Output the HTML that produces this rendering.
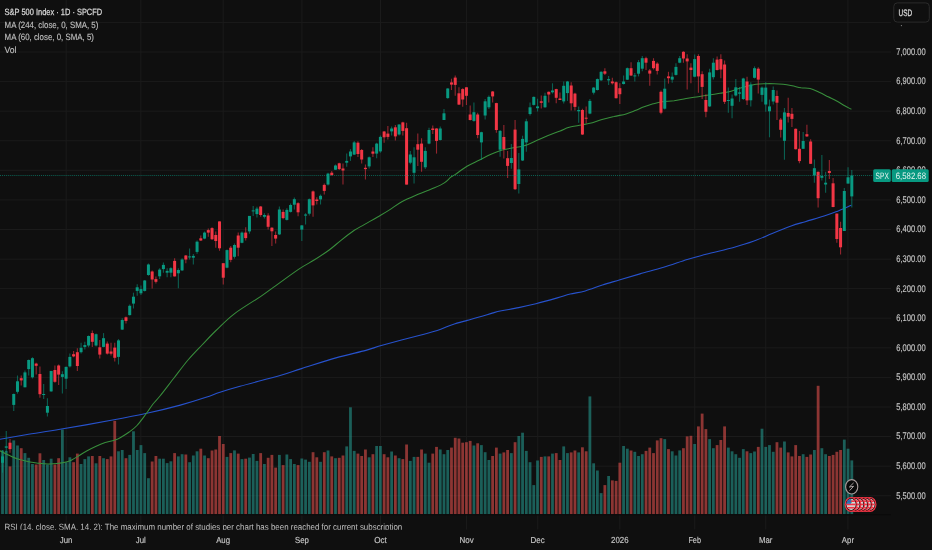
<!DOCTYPE html>
<html><head><meta charset="utf-8"><style>
html,body{margin:0;padding:0;background:#0f0f0f;}
body{width:932px;height:550px;overflow:hidden;position:relative;}
svg{position:absolute;left:0;top:0;}
text{font-family:'Liberation Sans', Arial, sans-serif;text-rendering:geometricPrecision;}
</style></head><body>
<svg width="932" height="550" viewBox="0 0 932 550">
<defs><clipPath id="fc0"><ellipse cx="851.10" cy="504.4" rx="4.6" ry="5.6"/></clipPath><clipPath id="fc1"><ellipse cx="854.88" cy="504.4" rx="4.6" ry="5.6"/></clipPath><clipPath id="fc2"><ellipse cx="858.66" cy="504.4" rx="4.6" ry="5.6"/></clipPath><clipPath id="fc3"><ellipse cx="862.44" cy="504.4" rx="4.6" ry="5.6"/></clipPath><clipPath id="fc4"><ellipse cx="866.22" cy="504.4" rx="4.6" ry="5.6"/></clipPath><clipPath id="fc5"><ellipse cx="870.00" cy="504.4" rx="4.6" ry="5.6"/></clipPath><clipPath id="pane"><rect x="0" y="0" width="891" height="514.2"/></clipPath></defs>
<rect width="932" height="550" fill="#0f0f0f"/>
<g stroke="#1b1b1b" stroke-width="1"><line x1="0" y1="22.4" x2="891" y2="22.4"/><line x1="0" y1="52.0" x2="891" y2="52.0"/><line x1="0" y1="81.6" x2="891" y2="81.6"/><line x1="0" y1="111.2" x2="891" y2="111.2"/><line x1="0" y1="140.7" x2="891" y2="140.7"/><line x1="0" y1="170.3" x2="891" y2="170.3"/><line x1="0" y1="199.9" x2="891" y2="199.9"/><line x1="0" y1="229.5" x2="891" y2="229.5"/><line x1="0" y1="259.1" x2="891" y2="259.1"/><line x1="0" y1="288.6" x2="891" y2="288.6"/><line x1="0" y1="318.2" x2="891" y2="318.2"/><line x1="0" y1="347.8" x2="891" y2="347.8"/><line x1="0" y1="377.4" x2="891" y2="377.4"/><line x1="0" y1="407.0" x2="891" y2="407.0"/><line x1="0" y1="436.5" x2="891" y2="436.5"/><line x1="0" y1="466.1" x2="891" y2="466.1"/><line x1="0" y1="495.7" x2="891" y2="495.7"/><line x1="66.1" y1="0" x2="66.1" y2="529.5"/><line x1="140.8" y1="0" x2="140.8" y2="529.5"/><line x1="223.1" y1="0" x2="223.1" y2="529.5"/><line x1="301.9" y1="0" x2="301.9" y2="529.5"/><line x1="380.5" y1="0" x2="380.5" y2="529.5"/><line x1="466.6" y1="0" x2="466.6" y2="529.5"/><line x1="537.7" y1="0" x2="537.7" y2="529.5"/><line x1="619.8" y1="0" x2="619.8" y2="529.5"/><line x1="694.7" y1="0" x2="694.7" y2="529.5"/><line x1="765.7" y1="0" x2="765.7" y2="529.5"/><line x1="847.9" y1="0" x2="847.9" y2="529.5"/></g>
<g fill="rgba(38,166,154,0.53)"><rect x="1.12" y="450.5" width="2.80" height="63.7"/><rect x="4.86" y="450.9" width="2.80" height="63.3"/><rect x="12.34" y="440.4" width="2.80" height="73.8"/><rect x="16.09" y="445.5" width="2.80" height="68.7"/><rect x="23.57" y="453.1" width="2.80" height="61.1"/><rect x="27.31" y="457.8" width="2.80" height="56.4"/><rect x="31.05" y="464.0" width="2.80" height="50.2"/><rect x="42.27" y="460.0" width="2.80" height="54.2"/><rect x="46.02" y="464.5" width="2.80" height="49.7"/><rect x="49.76" y="458.7" width="2.80" height="55.5"/><rect x="60.98" y="429.5" width="2.80" height="84.7"/><rect x="64.72" y="462.2" width="2.80" height="52.0"/><rect x="68.46" y="457.3" width="2.80" height="56.9"/><rect x="79.69" y="464.0" width="2.80" height="50.2"/><rect x="83.43" y="459.1" width="2.80" height="55.1"/><rect x="87.17" y="456.4" width="2.80" height="57.8"/><rect x="94.65" y="463.3" width="2.80" height="50.9"/><rect x="102.14" y="458.2" width="2.80" height="56.0"/><rect x="117.10" y="451.3" width="2.80" height="62.9"/><rect x="120.84" y="450.0" width="2.80" height="64.2"/><rect x="128.32" y="454.9" width="2.80" height="59.3"/><rect x="132.07" y="431.3" width="2.80" height="82.9"/><rect x="135.81" y="450.0" width="2.80" height="64.2"/><rect x="139.55" y="445.1" width="2.80" height="69.1"/><rect x="143.29" y="453.1" width="2.80" height="61.1"/><rect x="147.03" y="478.2" width="2.80" height="36.0"/><rect x="158.25" y="458.7" width="2.80" height="55.5"/><rect x="162.00" y="458.7" width="2.80" height="55.5"/><rect x="165.74" y="463.1" width="2.80" height="51.1"/><rect x="169.48" y="461.3" width="2.80" height="52.9"/><rect x="176.96" y="456.4" width="2.80" height="57.8"/><rect x="180.70" y="454.2" width="2.80" height="60.0"/><rect x="188.19" y="462.2" width="2.80" height="52.0"/><rect x="191.93" y="455.5" width="2.80" height="58.7"/><rect x="195.67" y="451.3" width="2.80" height="62.9"/><rect x="203.15" y="455.5" width="2.80" height="58.7"/><rect x="225.60" y="456.9" width="2.80" height="57.3"/><rect x="233.08" y="450.4" width="2.80" height="63.8"/><rect x="240.56" y="459.1" width="2.80" height="55.1"/><rect x="248.05" y="457.6" width="2.80" height="56.6"/><rect x="251.79" y="454.0" width="2.80" height="60.2"/><rect x="255.53" y="460.9" width="2.80" height="53.3"/><rect x="263.01" y="464.0" width="2.80" height="50.2"/><rect x="277.98" y="454.9" width="2.80" height="59.3"/><rect x="285.46" y="454.5" width="2.80" height="59.7"/><rect x="289.20" y="459.1" width="2.80" height="55.1"/><rect x="292.94" y="464.0" width="2.80" height="50.2"/><rect x="300.42" y="458.5" width="2.80" height="55.7"/><rect x="304.17" y="459.6" width="2.80" height="54.6"/><rect x="307.91" y="461.8" width="2.80" height="52.4"/><rect x="319.13" y="461.8" width="2.80" height="52.4"/><rect x="326.61" y="450.5" width="2.80" height="63.7"/><rect x="334.10" y="458.2" width="2.80" height="56.0"/><rect x="345.32" y="446.4" width="2.80" height="67.8"/><rect x="349.06" y="407.3" width="2.80" height="106.9"/><rect x="352.80" y="450.9" width="2.80" height="63.3"/><rect x="367.77" y="457.3" width="2.80" height="56.9"/><rect x="375.25" y="446.0" width="2.80" height="68.2"/><rect x="378.99" y="446.0" width="2.80" height="68.2"/><rect x="390.22" y="451.5" width="2.80" height="62.7"/><rect x="397.70" y="458.2" width="2.80" height="56.0"/><rect x="408.92" y="460.9" width="2.80" height="53.3"/><rect x="412.66" y="456.9" width="2.80" height="57.3"/><rect x="423.89" y="453.6" width="2.80" height="60.6"/><rect x="427.63" y="462.7" width="2.80" height="51.5"/><rect x="438.85" y="449.5" width="2.80" height="64.7"/><rect x="442.59" y="454.2" width="2.80" height="60.0"/><rect x="446.33" y="450.0" width="2.80" height="64.2"/><rect x="472.52" y="445.5" width="2.80" height="68.7"/><rect x="480.01" y="445.1" width="2.80" height="69.1"/><rect x="483.75" y="452.2" width="2.80" height="62.0"/><rect x="487.49" y="460.0" width="2.80" height="54.2"/><rect x="498.71" y="453.6" width="2.80" height="60.6"/><rect x="509.94" y="453.1" width="2.80" height="61.1"/><rect x="517.42" y="436.0" width="2.80" height="78.2"/><rect x="521.16" y="432.7" width="2.80" height="81.5"/><rect x="524.90" y="450.9" width="2.80" height="63.3"/><rect x="528.64" y="462.2" width="2.80" height="52.0"/><rect x="532.38" y="485.1" width="2.80" height="29.1"/><rect x="536.13" y="460.5" width="2.80" height="53.7"/><rect x="543.61" y="456.4" width="2.80" height="57.8"/><rect x="551.09" y="453.6" width="2.80" height="60.6"/><rect x="562.31" y="446.4" width="2.80" height="67.8"/><rect x="566.06" y="453.1" width="2.80" height="61.1"/><rect x="577.28" y="452.4" width="2.80" height="61.8"/><rect x="588.50" y="396.4" width="2.80" height="117.8"/><rect x="592.25" y="463.3" width="2.80" height="50.9"/><rect x="595.99" y="470.5" width="2.80" height="43.7"/><rect x="599.73" y="493.1" width="2.80" height="21.1"/><rect x="607.21" y="476.0" width="2.80" height="38.2"/><rect x="622.18" y="446.0" width="2.80" height="68.2"/><rect x="625.92" y="448.7" width="2.80" height="65.5"/><rect x="633.40" y="451.8" width="2.80" height="62.4"/><rect x="637.14" y="456.0" width="2.80" height="58.2"/><rect x="640.88" y="454.2" width="2.80" height="60.0"/><rect x="663.33" y="439.1" width="2.80" height="75.1"/><rect x="670.81" y="451.3" width="2.80" height="62.9"/><rect x="674.55" y="455.5" width="2.80" height="58.7"/><rect x="678.30" y="450.4" width="2.80" height="63.8"/><rect x="693.26" y="444.0" width="2.80" height="70.2"/><rect x="708.23" y="439.1" width="2.80" height="75.1"/><rect x="711.97" y="448.2" width="2.80" height="66.0"/><rect x="726.93" y="447.6" width="2.80" height="66.6"/><rect x="730.67" y="451.3" width="2.80" height="62.9"/><rect x="734.41" y="454.2" width="2.80" height="60.0"/><rect x="738.16" y="457.8" width="2.80" height="56.4"/><rect x="741.90" y="449.1" width="2.80" height="65.1"/><rect x="749.38" y="453.1" width="2.80" height="61.1"/><rect x="753.12" y="451.5" width="2.80" height="62.7"/><rect x="760.60" y="428.7" width="2.80" height="85.5"/><rect x="764.35" y="446.9" width="2.80" height="67.3"/><rect x="768.09" y="445.1" width="2.80" height="69.1"/><rect x="771.83" y="451.8" width="2.80" height="62.4"/><rect x="783.05" y="441.5" width="2.80" height="72.7"/><rect x="801.76" y="454.2" width="2.80" height="60.0"/><rect x="812.98" y="450.0" width="2.80" height="64.2"/><rect x="820.46" y="448.2" width="2.80" height="66.0"/><rect x="824.21" y="454.2" width="2.80" height="60.0"/><rect x="842.91" y="439.6" width="2.80" height="74.6"/><rect x="846.65" y="448.7" width="2.80" height="65.5"/><rect x="850.40" y="460.4" width="2.80" height="53.8"/></g>
<g fill="rgba(239,83,80,0.56)"><rect x="8.60" y="466.4" width="2.80" height="47.8"/><rect x="19.83" y="448.2" width="2.80" height="66.0"/><rect x="34.79" y="464.5" width="2.80" height="49.7"/><rect x="38.53" y="453.3" width="2.80" height="60.9"/><rect x="53.50" y="464.5" width="2.80" height="49.7"/><rect x="57.24" y="458.2" width="2.80" height="56.0"/><rect x="72.20" y="462.2" width="2.80" height="52.0"/><rect x="75.95" y="453.6" width="2.80" height="60.6"/><rect x="90.91" y="456.0" width="2.80" height="58.2"/><rect x="98.39" y="456.0" width="2.80" height="58.2"/><rect x="105.88" y="459.1" width="2.80" height="55.1"/><rect x="109.62" y="456.4" width="2.80" height="57.8"/><rect x="113.36" y="420.9" width="2.80" height="93.3"/><rect x="124.58" y="458.2" width="2.80" height="56.0"/><rect x="150.77" y="461.5" width="2.80" height="52.7"/><rect x="154.51" y="456.0" width="2.80" height="58.2"/><rect x="173.22" y="453.1" width="2.80" height="61.1"/><rect x="184.44" y="454.5" width="2.80" height="59.7"/><rect x="199.41" y="448.7" width="2.80" height="65.5"/><rect x="206.89" y="458.2" width="2.80" height="56.0"/><rect x="210.63" y="450.5" width="2.80" height="63.7"/><rect x="214.37" y="449.5" width="2.80" height="64.7"/><rect x="218.12" y="436.0" width="2.80" height="78.2"/><rect x="221.86" y="444.0" width="2.80" height="70.2"/><rect x="229.34" y="453.1" width="2.80" height="61.1"/><rect x="236.82" y="453.6" width="2.80" height="60.6"/><rect x="244.30" y="458.7" width="2.80" height="55.5"/><rect x="259.27" y="453.1" width="2.80" height="61.1"/><rect x="266.75" y="457.8" width="2.80" height="56.4"/><rect x="270.49" y="454.9" width="2.80" height="59.3"/><rect x="274.23" y="467.6" width="2.80" height="46.6"/><rect x="281.72" y="465.1" width="2.80" height="49.1"/><rect x="296.68" y="465.1" width="2.80" height="49.1"/><rect x="311.65" y="452.2" width="2.80" height="62.0"/><rect x="315.39" y="457.3" width="2.80" height="56.9"/><rect x="322.87" y="452.2" width="2.80" height="62.0"/><rect x="330.35" y="456.4" width="2.80" height="57.8"/><rect x="337.84" y="457.8" width="2.80" height="56.4"/><rect x="341.58" y="455.5" width="2.80" height="58.7"/><rect x="356.54" y="453.6" width="2.80" height="60.6"/><rect x="360.28" y="456.0" width="2.80" height="58.2"/><rect x="364.03" y="449.5" width="2.80" height="64.7"/><rect x="371.51" y="454.2" width="2.80" height="60.0"/><rect x="382.73" y="454.2" width="2.80" height="60.0"/><rect x="386.47" y="457.3" width="2.80" height="56.9"/><rect x="393.96" y="455.5" width="2.80" height="58.7"/><rect x="401.44" y="459.1" width="2.80" height="55.1"/><rect x="405.18" y="444.5" width="2.80" height="69.7"/><rect x="416.40" y="456.9" width="2.80" height="57.3"/><rect x="420.15" y="449.5" width="2.80" height="64.7"/><rect x="431.37" y="453.6" width="2.80" height="60.6"/><rect x="435.11" y="446.9" width="2.80" height="67.3"/><rect x="450.08" y="447.6" width="2.80" height="66.6"/><rect x="453.82" y="437.8" width="2.80" height="76.4"/><rect x="457.56" y="438.5" width="2.80" height="75.7"/><rect x="461.30" y="442.7" width="2.80" height="71.5"/><rect x="465.04" y="442.2" width="2.80" height="72.0"/><rect x="468.78" y="440.9" width="2.80" height="73.3"/><rect x="476.27" y="443.3" width="2.80" height="70.9"/><rect x="491.23" y="456.0" width="2.80" height="58.2"/><rect x="494.97" y="447.6" width="2.80" height="66.6"/><rect x="502.45" y="452.4" width="2.80" height="61.8"/><rect x="506.20" y="450.0" width="2.80" height="64.2"/><rect x="513.68" y="442.2" width="2.80" height="72.0"/><rect x="539.87" y="456.9" width="2.80" height="57.3"/><rect x="547.35" y="456.4" width="2.80" height="57.8"/><rect x="554.83" y="453.1" width="2.80" height="61.1"/><rect x="558.57" y="460.0" width="2.80" height="54.2"/><rect x="569.80" y="452.4" width="2.80" height="61.8"/><rect x="573.54" y="450.5" width="2.80" height="63.7"/><rect x="581.02" y="447.3" width="2.80" height="66.9"/><rect x="584.76" y="451.3" width="2.80" height="62.9"/><rect x="603.47" y="485.1" width="2.80" height="29.1"/><rect x="610.95" y="480.4" width="2.80" height="33.8"/><rect x="614.69" y="480.9" width="2.80" height="33.3"/><rect x="618.43" y="462.7" width="2.80" height="51.5"/><rect x="629.66" y="450.5" width="2.80" height="63.7"/><rect x="644.62" y="450.9" width="2.80" height="63.3"/><rect x="648.36" y="447.6" width="2.80" height="66.6"/><rect x="652.11" y="453.1" width="2.80" height="61.1"/><rect x="655.85" y="440.4" width="2.80" height="73.8"/><rect x="659.59" y="438.2" width="2.80" height="76.0"/><rect x="667.07" y="449.1" width="2.80" height="65.1"/><rect x="682.04" y="448.2" width="2.80" height="66.0"/><rect x="685.78" y="436.4" width="2.80" height="77.8"/><rect x="689.52" y="435.8" width="2.80" height="78.4"/><rect x="697.00" y="426.4" width="2.80" height="87.8"/><rect x="700.74" y="413.6" width="2.80" height="100.6"/><rect x="704.48" y="429.1" width="2.80" height="85.1"/><rect x="715.71" y="445.1" width="2.80" height="69.1"/><rect x="719.45" y="440.0" width="2.80" height="74.2"/><rect x="723.19" y="426.4" width="2.80" height="87.8"/><rect x="745.64" y="451.3" width="2.80" height="62.9"/><rect x="756.86" y="446.9" width="2.80" height="67.3"/><rect x="775.57" y="442.2" width="2.80" height="72.0"/><rect x="779.31" y="447.6" width="2.80" height="66.6"/><rect x="786.79" y="452.4" width="2.80" height="61.8"/><rect x="790.53" y="456.4" width="2.80" height="57.8"/><rect x="794.28" y="445.1" width="2.80" height="69.1"/><rect x="798.02" y="456.0" width="2.80" height="58.2"/><rect x="805.50" y="456.9" width="2.80" height="57.3"/><rect x="809.24" y="454.5" width="2.80" height="59.7"/><rect x="816.72" y="385.8" width="2.80" height="128.4"/><rect x="827.95" y="456.0" width="2.80" height="58.2"/><rect x="831.69" y="454.9" width="2.80" height="59.3"/><rect x="835.43" y="451.8" width="2.80" height="62.4"/><rect x="839.17" y="450.0" width="2.80" height="64.2"/></g>
<rect x="0" y="514.2" width="891" height="1.2" fill="#0a0a0a"/>
<g clip-path="url(#pane)">
<path d="M0.0,439.3 C4.3,438.5 15.8,436.4 25.8,434.7 C35.8,433.0 45.9,431.7 60.1,429.3 C74.3,426.9 96.8,423.0 111.2,420.3 C125.7,417.6 135.3,415.8 146.8,413.3 C158.3,410.8 170.4,407.8 180.3,405.1 C190.2,402.4 199.4,399.5 206.0,397.3 C212.6,395.1 214.3,394.0 220.0,392.2 C225.7,390.4 230.0,389.1 240.0,386.3 C250.0,383.5 269.9,378.4 280.1,375.5 C290.4,372.6 292.2,371.5 301.5,368.6 C310.8,365.7 325.2,360.9 335.9,357.9 C346.6,354.9 358.0,352.5 365.9,350.4 C373.8,348.2 374.1,347.5 383.1,345.0 C392.1,342.5 411.0,337.6 420.0,335.2 C429.0,332.8 431.8,332.2 437.2,330.5 C442.6,328.8 447.2,326.4 452.2,324.7 C457.2,323.0 462.5,321.7 467.2,320.4 C471.9,319.1 475.8,318.1 480.1,316.8 C484.4,315.6 489.4,313.9 493.0,312.9 C496.6,311.9 497.2,311.7 501.5,310.8 C505.8,309.9 513.0,308.8 518.7,307.6 C524.4,306.4 529.5,305.3 535.9,303.7 C542.3,302.1 551.6,299.5 557.3,297.9 C563.0,296.3 565.6,295.1 570.2,294.0 C574.9,292.9 579.8,292.5 585.2,291.0 C590.6,289.5 596.6,286.9 602.4,285.0 C608.2,283.1 613.7,281.7 620.0,279.8 C626.3,277.9 632.7,276.0 640.0,273.9 C647.3,271.8 655.7,269.7 663.6,267.3 C671.5,264.9 680.1,261.7 687.2,259.5 C694.3,257.3 698.2,256.4 706.1,254.3 C714.0,252.2 726.5,249.4 734.4,247.2 C742.3,245.0 747.0,243.6 753.3,241.3 C759.6,239.0 765.9,236.1 772.2,233.5 C778.5,230.9 785.6,228.0 791.1,226.0 C796.6,224.0 799.8,223.3 805.3,221.7 C810.8,220.0 819.0,217.8 824.1,216.1 C829.2,214.4 831.4,213.6 835.9,211.8 C840.4,210.0 848.7,206.3 851.3,205.2" fill="none" stroke="#2752cc" stroke-width="1.1"/>
<path d="M0.0,450.8 C1.5,451.6 6.0,453.9 9.0,455.3 C12.0,456.7 14.5,458.0 18.0,459.1 C21.5,460.2 26.5,461.4 30.0,462.1 C33.5,462.8 36.0,463.0 39.0,463.3 C42.0,463.6 45.0,463.9 48.0,464.0 C51.0,464.1 54.0,463.9 57.0,463.6 C60.0,463.3 63.6,462.7 66.1,462.1 C68.6,461.5 69.8,460.9 72.1,459.8 C74.3,458.7 77.1,456.8 79.6,455.3 C82.1,453.8 84.3,452.3 87.1,450.8 C89.8,449.3 93.1,447.7 96.1,446.3 C99.1,444.9 102.2,443.5 105.2,442.5 C108.2,441.5 111.7,441.1 114.2,440.3 C116.7,439.5 117.7,439.1 120.2,437.7 C122.7,436.3 126.4,434.0 129.2,432.0 C132.0,430.0 134.2,428.5 137.0,425.5 C139.8,422.5 143.3,417.6 146.0,414.0 C148.7,410.4 150.7,407.0 153.0,404.0 C155.3,401.0 156.5,400.3 160.0,396.0 C163.5,391.7 169.3,384.0 174.0,378.0 C178.7,372.0 183.3,365.5 188.0,360.0 C192.7,354.5 197.3,349.9 202.0,345.0 C206.7,340.1 210.6,335.7 216.0,330.5 C221.4,325.3 226.9,319.4 234.3,313.8 C241.7,308.2 254.2,300.8 260.5,296.6 C266.8,292.4 265.7,292.9 272.0,288.4 C278.3,283.9 291.0,274.4 298.1,269.6 C305.2,264.8 309.3,263.1 314.5,259.8 C319.7,256.5 324.7,253.3 329.2,250.0 C333.7,246.7 337.1,243.4 341.3,240.1 C345.5,236.8 350.5,232.9 354.3,230.3 C358.1,227.7 360.4,226.8 364.2,224.6 C368.0,222.4 373.1,219.6 377.2,217.2 C381.3,214.8 384.6,213.0 388.7,210.4 C392.8,207.8 396.9,204.4 401.8,201.7 C406.7,199.0 412.7,196.6 418.1,194.3 C423.6,192.0 430.1,189.7 434.5,187.8 C438.9,185.9 441.6,184.7 444.3,182.9 C447.0,181.1 449.0,178.6 450.8,177.2 C452.6,175.8 452.3,176.4 455.0,174.6 C457.7,172.8 463.0,168.7 467.0,166.3 C471.0,163.9 475.0,162.3 479.0,160.3 C483.0,158.3 487.0,156.1 491.0,154.3 C495.0,152.6 499.1,150.9 503.1,149.8 C507.1,148.7 511.6,148.3 515.1,147.6 C518.6,146.9 520.6,146.9 524.1,145.8 C527.6,144.7 532.1,142.5 536.1,140.8 C540.1,139.1 544.1,137.1 548.1,135.5 C552.1,133.9 556.7,132.4 560.2,131.0 C563.7,129.6 565.7,128.3 569.2,127.3 C572.7,126.3 577.7,125.7 581.2,125.0 C584.7,124.3 586.5,124.2 590.0,123.3 C593.5,122.4 598.0,120.7 602.0,119.6 C606.0,118.5 610.0,117.5 614.0,116.6 C618.0,115.6 622.6,114.9 626.1,113.9 C629.6,112.9 632.1,111.8 635.1,110.6 C638.1,109.4 641.1,107.9 644.1,106.8 C647.1,105.7 650.1,104.6 653.1,103.8 C656.1,103.0 658.6,102.3 662.1,101.8 C665.6,101.3 670.1,101.3 674.1,100.8 C678.1,100.2 682.1,99.2 686.1,98.5 C690.1,97.8 694.2,97.3 698.2,96.7 C702.2,96.1 706.6,95.4 710.2,94.8 C713.8,94.2 716.9,93.8 720.0,93.3 C723.1,92.8 726.0,92.5 729.0,91.8 C732.0,91.0 735.0,89.7 738.0,88.8 C741.0,87.9 744.0,87.0 747.0,86.3 C750.0,85.5 753.0,84.7 756.0,84.3 C759.0,83.9 762.1,83.8 765.1,83.7 C768.1,83.6 771.1,83.6 774.1,83.7 C777.1,83.8 780.1,84.0 783.1,84.3 C786.1,84.6 789.1,85.2 792.1,85.8 C795.1,86.4 798.1,87.3 801.1,87.8 C804.1,88.2 807.1,87.8 810.1,88.5 C813.1,89.2 816.1,90.9 819.1,92.3 C822.1,93.7 825.2,95.3 828.2,96.8 C831.2,98.3 834.5,99.8 837.2,101.3 C840.0,102.8 842.3,104.5 844.7,105.8 C847.1,107.1 850.3,108.7 851.4,109.3" fill="none" stroke="#388e3c" stroke-width="1.05"/>
</g>
<g stroke="#089981" stroke-width="1.1" opacity="0.58"><line x1="2.52" y1="450.0" x2="2.52" y2="472.7"/><line x1="6.26" y1="430.9" x2="6.26" y2="452.7"/><line x1="13.74" y1="393.6" x2="13.74" y2="410.9"/><line x1="17.49" y1="375.5" x2="17.49" y2="393.6"/><line x1="24.97" y1="370.5" x2="24.97" y2="387.3"/><line x1="28.71" y1="359.6" x2="28.71" y2="375.5"/><line x1="32.45" y1="357.3" x2="32.45" y2="378.5"/><line x1="43.67" y1="384.0" x2="43.67" y2="399.1"/><line x1="47.42" y1="398.2" x2="47.42" y2="416.4"/><line x1="51.16" y1="370.9" x2="51.16" y2="391.8"/><line x1="62.38" y1="371.3" x2="62.38" y2="393.6"/><line x1="66.12" y1="366.4" x2="66.12" y2="389.1"/><line x1="69.86" y1="353.6" x2="69.86" y2="367.6"/><line x1="81.09" y1="342.7" x2="81.09" y2="353.6"/><line x1="84.83" y1="341.8" x2="84.83" y2="349.5"/><line x1="88.57" y1="335.5" x2="88.57" y2="347.3"/><line x1="96.05" y1="333.6" x2="96.05" y2="346.4"/><line x1="103.54" y1="333.1" x2="103.54" y2="347.3"/><line x1="118.50" y1="339.1" x2="118.50" y2="364.5"/><line x1="122.24" y1="318.2" x2="122.24" y2="330.0"/><line x1="129.72" y1="304.5" x2="129.72" y2="315.5"/><line x1="133.47" y1="292.7" x2="133.47" y2="308.5"/><line x1="137.21" y1="284.2" x2="137.21" y2="295.8"/><line x1="140.95" y1="285.5" x2="140.95" y2="295.1"/><line x1="144.69" y1="280.0" x2="144.69" y2="291.5"/><line x1="148.43" y1="263.6" x2="148.43" y2="275.8"/><line x1="159.65" y1="268.2" x2="159.65" y2="279.1"/><line x1="163.40" y1="262.4" x2="163.40" y2="272.7"/><line x1="167.14" y1="268.2" x2="167.14" y2="277.3"/><line x1="170.88" y1="267.3" x2="170.88" y2="277.3"/><line x1="178.36" y1="268.2" x2="178.36" y2="288.2"/><line x1="182.10" y1="258.2" x2="182.10" y2="270.9"/><line x1="189.59" y1="248.6" x2="189.59" y2="259.5"/><line x1="193.33" y1="254.1" x2="193.33" y2="264.6"/><line x1="197.07" y1="240.5" x2="197.07" y2="253.7"/><line x1="204.55" y1="231.4" x2="204.55" y2="239.2"/><line x1="227.00" y1="249.5" x2="227.00" y2="268.3"/><line x1="234.48" y1="243.5" x2="234.48" y2="258.6"/><line x1="241.96" y1="231.4" x2="241.96" y2="243.2"/><line x1="249.45" y1="215.9" x2="249.45" y2="233.7"/><line x1="253.19" y1="205.9" x2="253.19" y2="215.9"/><line x1="256.93" y1="206.8" x2="256.93" y2="217.4"/><line x1="264.41" y1="213.2" x2="264.41" y2="218.6"/><line x1="279.38" y1="206.5" x2="279.38" y2="235.0"/><line x1="286.86" y1="208.3" x2="286.86" y2="220.5"/><line x1="290.60" y1="203.5" x2="290.60" y2="212.6"/><line x1="294.34" y1="197.4" x2="294.34" y2="209.5"/><line x1="301.82" y1="225.0" x2="301.82" y2="241.0"/><line x1="305.57" y1="213.2" x2="305.57" y2="224.6"/><line x1="309.31" y1="198.6" x2="309.31" y2="215.5"/><line x1="320.53" y1="194.5" x2="320.53" y2="204.5"/><line x1="328.01" y1="172.7" x2="328.01" y2="185.5"/><line x1="335.50" y1="164.5" x2="335.50" y2="170.0"/><line x1="346.72" y1="153.6" x2="346.72" y2="166.7"/><line x1="350.46" y1="149.1" x2="350.46" y2="160.9"/><line x1="354.20" y1="140.9" x2="354.20" y2="155.1"/><line x1="369.17" y1="156.4" x2="369.17" y2="168.5"/><line x1="376.65" y1="142.7" x2="376.65" y2="158.2"/><line x1="380.39" y1="135.5" x2="380.39" y2="152.7"/><line x1="391.62" y1="126.4" x2="391.62" y2="135.5"/><line x1="399.10" y1="124.2" x2="399.10" y2="135.5"/><line x1="410.32" y1="150.9" x2="410.32" y2="164.2"/><line x1="414.06" y1="147.3" x2="414.06" y2="183.6"/><line x1="425.29" y1="147.3" x2="425.29" y2="169.1"/><line x1="429.03" y1="127.8" x2="429.03" y2="144.2"/><line x1="440.25" y1="126.4" x2="440.25" y2="140.5"/><line x1="443.99" y1="109.1" x2="443.99" y2="120.0"/><line x1="447.73" y1="88.2" x2="447.73" y2="98.7"/><line x1="473.92" y1="102.4" x2="473.92" y2="121.8"/><line x1="481.41" y1="131.8" x2="481.41" y2="160.0"/><line x1="485.15" y1="99.1" x2="485.15" y2="119.5"/><line x1="488.89" y1="95.5" x2="488.89" y2="109.1"/><line x1="500.11" y1="130.0" x2="500.11" y2="156.7"/><line x1="511.34" y1="144.0" x2="511.34" y2="168.8"/><line x1="518.82" y1="153.0" x2="518.82" y2="193.6"/><line x1="522.56" y1="135.7" x2="522.56" y2="161.0"/><line x1="526.30" y1="118.7" x2="526.30" y2="151.8"/><line x1="530.04" y1="102.4" x2="530.04" y2="115.5"/><line x1="533.78" y1="96.4" x2="533.78" y2="105.5"/><line x1="537.53" y1="98.7" x2="537.53" y2="111.5"/><line x1="545.01" y1="92.7" x2="545.01" y2="107.8"/><line x1="552.49" y1="83.3" x2="552.49" y2="93.6"/><line x1="563.71" y1="81.5" x2="563.71" y2="103.6"/><line x1="567.46" y1="80.9" x2="567.46" y2="100.9"/><line x1="578.68" y1="106.4" x2="578.68" y2="122.7"/><line x1="589.90" y1="99.1" x2="589.90" y2="114.2"/><line x1="593.65" y1="86.9" x2="593.65" y2="94.5"/><line x1="597.39" y1="78.5" x2="597.39" y2="90.5"/><line x1="601.13" y1="71.3" x2="601.13" y2="80.9"/><line x1="608.61" y1="76.0" x2="608.61" y2="85.1"/><line x1="623.58" y1="75.5" x2="623.58" y2="84.5"/><line x1="627.32" y1="67.6" x2="627.32" y2="80.0"/><line x1="634.80" y1="73.1" x2="634.80" y2="81.5"/><line x1="638.54" y1="60.0" x2="638.54" y2="76.4"/><line x1="642.28" y1="56.0" x2="642.28" y2="71.3"/><line x1="664.73" y1="78.5" x2="664.73" y2="109.5"/><line x1="672.21" y1="72.4" x2="672.21" y2="82.7"/><line x1="675.95" y1="63.3" x2="675.95" y2="75.5"/><line x1="679.70" y1="56.0" x2="679.70" y2="63.3"/><line x1="694.66" y1="54.5" x2="694.66" y2="77.3"/><line x1="709.63" y1="68.7" x2="709.63" y2="106.9"/><line x1="713.37" y1="58.2" x2="713.37" y2="79.6"/><line x1="728.33" y1="87.6" x2="728.33" y2="112.7"/><line x1="732.07" y1="94.5" x2="732.07" y2="118.2"/><line x1="735.81" y1="79.1" x2="735.81" y2="96.4"/><line x1="739.56" y1="86.9" x2="739.56" y2="101.8"/><line x1="743.30" y1="77.8" x2="743.30" y2="100.0"/><line x1="750.78" y1="82.2" x2="750.78" y2="106.4"/><line x1="754.52" y1="66.4" x2="754.52" y2="78.5"/><line x1="762.00" y1="86.4" x2="762.00" y2="101.8"/><line x1="765.75" y1="82.2" x2="765.75" y2="111.8"/><line x1="769.49" y1="99.6" x2="769.49" y2="137.3"/><line x1="773.23" y1="86.4" x2="773.23" y2="104.5"/><line x1="784.45" y1="108.0" x2="784.45" y2="159.7"/><line x1="803.16" y1="132.0" x2="803.16" y2="148.8"/><line x1="814.38" y1="159.4" x2="814.38" y2="182.7"/><line x1="821.86" y1="155.0" x2="821.86" y2="180.4"/><line x1="825.61" y1="171.8" x2="825.61" y2="192.7"/><line x1="844.31" y1="188.0" x2="844.31" y2="231.0"/><line x1="848.05" y1="167.3" x2="848.05" y2="183.6"/><line x1="851.80" y1="170.0" x2="851.80" y2="207.6"/></g>
<g stroke="#f23645" stroke-width="1.1" opacity="0.58"><line x1="10.00" y1="439.1" x2="10.00" y2="452.7"/><line x1="21.23" y1="375.5" x2="21.23" y2="385.5"/><line x1="36.19" y1="362.7" x2="36.19" y2="374.5"/><line x1="39.93" y1="366.4" x2="39.93" y2="397.8"/><line x1="54.90" y1="365.5" x2="54.90" y2="382.7"/><line x1="58.64" y1="364.5" x2="58.64" y2="385.1"/><line x1="73.60" y1="350.9" x2="73.60" y2="357.3"/><line x1="77.35" y1="348.2" x2="77.35" y2="370.9"/><line x1="92.31" y1="330.5" x2="92.31" y2="346.9"/><line x1="99.79" y1="340.0" x2="99.79" y2="358.5"/><line x1="107.28" y1="341.5" x2="107.28" y2="354.5"/><line x1="111.02" y1="342.7" x2="111.02" y2="355.5"/><line x1="114.76" y1="342.7" x2="114.76" y2="361.5"/><line x1="125.98" y1="316.4" x2="125.98" y2="323.6"/><line x1="152.17" y1="270.4" x2="152.17" y2="288.5"/><line x1="155.91" y1="276.4" x2="155.91" y2="283.6"/><line x1="174.62" y1="258.2" x2="174.62" y2="276.4"/><line x1="185.84" y1="255.0" x2="185.84" y2="263.2"/><line x1="200.81" y1="235.5" x2="200.81" y2="241.0"/><line x1="208.29" y1="228.6" x2="208.29" y2="236.8"/><line x1="212.03" y1="227.2" x2="212.03" y2="239.9"/><line x1="215.77" y1="231.4" x2="215.77" y2="247.7"/><line x1="219.52" y1="221.4" x2="219.52" y2="250.8"/><line x1="223.26" y1="263.2" x2="223.26" y2="284.6"/><line x1="230.74" y1="245.9" x2="230.74" y2="262.3"/><line x1="238.22" y1="232.6" x2="238.22" y2="256.3"/><line x1="245.70" y1="227.2" x2="245.70" y2="240.5"/><line x1="260.67" y1="205.9" x2="260.67" y2="216.8"/><line x1="268.15" y1="213.2" x2="268.15" y2="229.5"/><line x1="271.89" y1="227.2" x2="271.89" y2="245.9"/><line x1="275.63" y1="231.4" x2="275.63" y2="243.5"/><line x1="283.12" y1="209.5" x2="283.12" y2="219.2"/><line x1="298.08" y1="202.3" x2="298.08" y2="216.3"/><line x1="313.05" y1="190.5" x2="313.05" y2="216.8"/><line x1="316.79" y1="197.3" x2="316.79" y2="204.5"/><line x1="324.27" y1="183.6" x2="324.27" y2="194.5"/><line x1="331.75" y1="170.9" x2="331.75" y2="175.8"/><line x1="339.24" y1="162.7" x2="339.24" y2="170.0"/><line x1="342.98" y1="163.6" x2="342.98" y2="184.5"/><line x1="357.94" y1="141.3" x2="357.94" y2="156.9"/><line x1="361.68" y1="149.1" x2="361.68" y2="163.6"/><line x1="365.43" y1="164.5" x2="365.43" y2="179.5"/><line x1="372.91" y1="147.3" x2="372.91" y2="156.9"/><line x1="384.13" y1="130.9" x2="384.13" y2="142.7"/><line x1="387.87" y1="126.0" x2="387.87" y2="139.5"/><line x1="395.36" y1="124.9" x2="395.36" y2="140.5"/><line x1="402.84" y1="121.8" x2="402.84" y2="135.5"/><line x1="406.58" y1="122.7" x2="406.58" y2="184.5"/><line x1="417.80" y1="133.6" x2="417.80" y2="166.0"/><line x1="421.55" y1="138.2" x2="421.55" y2="171.8"/><line x1="432.77" y1="125.5" x2="432.77" y2="134.0"/><line x1="436.51" y1="128.2" x2="436.51" y2="153.6"/><line x1="451.48" y1="78.7" x2="451.48" y2="90.0"/><line x1="455.22" y1="75.5" x2="455.22" y2="95.8"/><line x1="458.96" y1="87.3" x2="458.96" y2="104.9"/><line x1="462.70" y1="88.2" x2="462.70" y2="106.7"/><line x1="466.44" y1="87.3" x2="466.44" y2="104.9"/><line x1="470.18" y1="105.5" x2="470.18" y2="120.5"/><line x1="477.67" y1="112.7" x2="477.67" y2="138.2"/><line x1="492.63" y1="90.9" x2="492.63" y2="102.4"/><line x1="496.37" y1="102.7" x2="496.37" y2="132.7"/><line x1="503.85" y1="125.0" x2="503.85" y2="158.6"/><line x1="507.60" y1="151.0" x2="507.60" y2="178.0"/><line x1="515.08" y1="120.0" x2="515.08" y2="190.0"/><line x1="541.27" y1="95.5" x2="541.27" y2="108.5"/><line x1="548.75" y1="91.5" x2="548.75" y2="102.4"/><line x1="556.23" y1="88.7" x2="556.23" y2="103.3"/><line x1="559.97" y1="92.4" x2="559.97" y2="100.0"/><line x1="571.20" y1="82.2" x2="571.20" y2="110.5"/><line x1="574.94" y1="92.7" x2="574.94" y2="110.5"/><line x1="582.42" y1="108.7" x2="582.42" y2="134.9"/><line x1="586.16" y1="106.4" x2="586.16" y2="123.3"/><line x1="604.87" y1="68.2" x2="604.87" y2="74.9"/><line x1="612.35" y1="77.8" x2="612.35" y2="84.5"/><line x1="616.09" y1="81.5" x2="616.09" y2="98.5"/><line x1="619.83" y1="83.3" x2="619.83" y2="104.0"/><line x1="631.06" y1="62.2" x2="631.06" y2="76.0"/><line x1="646.02" y1="56.7" x2="646.02" y2="70.0"/><line x1="649.76" y1="69.1" x2="649.76" y2="85.8"/><line x1="653.51" y1="58.2" x2="653.51" y2="69.5"/><line x1="657.25" y1="62.2" x2="657.25" y2="74.5"/><line x1="660.99" y1="90.5" x2="660.99" y2="114.2"/><line x1="668.47" y1="71.8" x2="668.47" y2="83.6"/><line x1="683.44" y1="51.3" x2="683.44" y2="62.7"/><line x1="687.18" y1="54.2" x2="687.18" y2="89.5"/><line x1="690.92" y1="63.3" x2="690.92" y2="83.3"/><line x1="698.40" y1="54.2" x2="698.40" y2="92.7"/><line x1="702.14" y1="71.3" x2="702.14" y2="99.1"/><line x1="705.88" y1="94.2" x2="705.88" y2="117.3"/><line x1="717.11" y1="56.4" x2="717.11" y2="70.5"/><line x1="720.85" y1="54.2" x2="720.85" y2="78.2"/><line x1="724.59" y1="60.4" x2="724.59" y2="104.0"/><line x1="747.04" y1="76.7" x2="747.04" y2="105.1"/><line x1="758.26" y1="67.3" x2="758.26" y2="93.6"/><line x1="776.97" y1="90.5" x2="776.97" y2="120.0"/><line x1="780.71" y1="118.0" x2="780.71" y2="137.5"/><line x1="788.19" y1="97.8" x2="788.19" y2="122.6"/><line x1="791.93" y1="108.0" x2="791.93" y2="127.0"/><line x1="795.68" y1="128.4" x2="795.68" y2="149.5"/><line x1="799.42" y1="130.9" x2="799.42" y2="163.3"/><line x1="806.90" y1="124.7" x2="806.90" y2="137.1"/><line x1="810.64" y1="139.3" x2="810.64" y2="164.0"/><line x1="818.12" y1="171.6" x2="818.12" y2="207.6"/><line x1="829.35" y1="160.0" x2="829.35" y2="179.0"/><line x1="833.09" y1="178.0" x2="833.09" y2="207.3"/><line x1="836.83" y1="213.6" x2="836.83" y2="242.7"/><line x1="840.57" y1="221.8" x2="840.57" y2="254.5"/></g>
<g fill="#089981"><rect x="1.02" y="456.4" width="3.00" height="6.4"/><rect x="4.76" y="446.4" width="3.00" height="1.3"/><rect x="12.24" y="394.0" width="3.00" height="10.9"/><rect x="15.99" y="381.3" width="3.00" height="10.5"/><rect x="23.47" y="372.4" width="3.00" height="14.9"/><rect x="27.21" y="360.0" width="3.00" height="9.1"/><rect x="30.95" y="358.2" width="3.00" height="19.1"/><rect x="42.17" y="394.0" width="3.00" height="1.0"/><rect x="45.92" y="406.0" width="3.00" height="6.7"/><rect x="49.66" y="370.9" width="3.00" height="20.5"/><rect x="60.88" y="374.2" width="3.00" height="2.7"/><rect x="64.62" y="366.9" width="3.00" height="11.8"/><rect x="68.36" y="356.9" width="3.00" height="9.5"/><rect x="79.59" y="347.8" width="3.00" height="4.4"/><rect x="83.33" y="345.1" width="3.00" height="1.8"/><rect x="87.07" y="336.0" width="3.00" height="9.5"/><rect x="94.55" y="334.2" width="3.00" height="11.3"/><rect x="102.04" y="338.2" width="3.00" height="8.7"/><rect x="117.00" y="340.4" width="3.00" height="16.5"/><rect x="120.74" y="320.0" width="3.00" height="9.6"/><rect x="128.22" y="305.8" width="3.00" height="9.3"/><rect x="131.97" y="296.7" width="3.00" height="6.9"/><rect x="135.71" y="287.3" width="3.00" height="3.6"/><rect x="139.45" y="289.1" width="3.00" height="4.2"/><rect x="143.19" y="280.5" width="3.00" height="10.4"/><rect x="146.93" y="264.5" width="3.00" height="10.5"/><rect x="158.15" y="269.6" width="3.00" height="6.7"/><rect x="161.90" y="264.9" width="3.00" height="4.2"/><rect x="165.64" y="270.9" width="3.00" height="1.8"/><rect x="169.38" y="268.2" width="3.00" height="4.5"/><rect x="176.86" y="270.0" width="3.00" height="3.3"/><rect x="180.60" y="259.5" width="3.00" height="10.9"/><rect x="188.09" y="256.4" width="3.00" height="1.0"/><rect x="191.83" y="255.9" width="3.00" height="1.8"/><rect x="195.57" y="241.7" width="3.00" height="10.2"/><rect x="203.05" y="232.6" width="3.00" height="6.0"/><rect x="225.50" y="250.1" width="3.00" height="17.6"/><rect x="232.98" y="245.0" width="3.00" height="11.8"/><rect x="240.46" y="232.6" width="3.00" height="10.2"/><rect x="247.95" y="215.9" width="3.00" height="15.5"/><rect x="251.69" y="210.4" width="3.00" height="1.0"/><rect x="255.43" y="208.6" width="3.00" height="5.5"/><rect x="262.91" y="215.0" width="3.00" height="1.8"/><rect x="277.88" y="209.5" width="3.00" height="24.9"/><rect x="285.36" y="209.9" width="3.00" height="10.0"/><rect x="289.10" y="205.0" width="3.00" height="6.9"/><rect x="292.84" y="199.2" width="3.00" height="5.5"/><rect x="300.32" y="225.4" width="3.00" height="4.2"/><rect x="304.07" y="214.5" width="3.00" height="1.1"/><rect x="307.81" y="199.2" width="3.00" height="14.5"/><rect x="319.03" y="195.8" width="3.00" height="3.6"/><rect x="326.51" y="173.6" width="3.00" height="10.9"/><rect x="334.00" y="165.5" width="3.00" height="4.2"/><rect x="345.22" y="160.9" width="3.00" height="1.8"/><rect x="348.96" y="151.5" width="3.00" height="4.9"/><rect x="352.70" y="142.4" width="3.00" height="12.2"/><rect x="367.67" y="157.3" width="3.00" height="9.1"/><rect x="375.15" y="143.6" width="3.00" height="10.0"/><rect x="378.89" y="136.9" width="3.00" height="14.5"/><rect x="390.12" y="128.5" width="3.00" height="2.9"/><rect x="397.60" y="124.5" width="3.00" height="10.0"/><rect x="408.82" y="154.5" width="3.00" height="8.2"/><rect x="412.56" y="157.3" width="3.00" height="15.5"/><rect x="423.79" y="150.9" width="3.00" height="16.4"/><rect x="427.53" y="130.0" width="3.00" height="13.6"/><rect x="438.75" y="128.5" width="3.00" height="11.5"/><rect x="442.49" y="113.3" width="3.00" height="6.7"/><rect x="446.23" y="88.5" width="3.00" height="9.6"/><rect x="472.42" y="112.2" width="3.00" height="8.7"/><rect x="479.91" y="132.2" width="3.00" height="10.2"/><rect x="483.65" y="101.3" width="3.00" height="14.2"/><rect x="487.39" y="96.9" width="3.00" height="10.4"/><rect x="498.61" y="130.9" width="3.00" height="18.8"/><rect x="509.84" y="158.0" width="3.00" height="5.0"/><rect x="517.32" y="169.4" width="3.00" height="14.6"/><rect x="521.06" y="138.9" width="3.00" height="21.6"/><rect x="524.80" y="121.3" width="3.00" height="21.1"/><rect x="528.54" y="107.3" width="3.00" height="6.7"/><rect x="532.28" y="96.9" width="3.00" height="8.0"/><rect x="536.03" y="106.4" width="3.00" height="1.8"/><rect x="543.51" y="95.8" width="3.00" height="11.5"/><rect x="550.99" y="90.5" width="3.00" height="1.8"/><rect x="562.21" y="85.8" width="3.00" height="15.6"/><rect x="565.96" y="81.5" width="3.00" height="11.6"/><rect x="577.18" y="110.0" width="3.00" height="1.3"/><rect x="588.40" y="100.9" width="3.00" height="12.7"/><rect x="592.15" y="87.6" width="3.00" height="5.1"/><rect x="595.89" y="79.1" width="3.00" height="10.9"/><rect x="599.63" y="71.8" width="3.00" height="8.5"/><rect x="607.11" y="79.1" width="3.00" height="1.3"/><rect x="622.08" y="81.5" width="3.00" height="2.5"/><rect x="625.82" y="68.2" width="3.00" height="11.5"/><rect x="633.30" y="75.4" width="3.00" height="1.0"/><rect x="637.04" y="62.2" width="3.00" height="11.5"/><rect x="640.78" y="58.2" width="3.00" height="10.5"/><rect x="663.23" y="88.7" width="3.00" height="20.0"/><rect x="670.71" y="76.7" width="3.00" height="2.9"/><rect x="674.45" y="66.9" width="3.00" height="8.0"/><rect x="678.20" y="58.2" width="3.00" height="4.5"/><rect x="693.16" y="59.1" width="3.00" height="17.6"/><rect x="708.13" y="72.4" width="3.00" height="34.0"/><rect x="711.87" y="62.7" width="3.00" height="14.5"/><rect x="726.83" y="100.0" width="3.00" height="1.0"/><rect x="730.57" y="98.5" width="3.00" height="7.3"/><rect x="734.31" y="87.3" width="3.00" height="8.2"/><rect x="738.06" y="92.4" width="3.00" height="1.3"/><rect x="741.80" y="78.5" width="3.00" height="20.5"/><rect x="749.28" y="84.5" width="3.00" height="15.8"/><rect x="753.02" y="68.2" width="3.00" height="9.6"/><rect x="760.50" y="87.6" width="3.00" height="7.3"/><rect x="764.25" y="87.6" width="3.00" height="16.9"/><rect x="767.99" y="106.4" width="3.00" height="4.9"/><rect x="771.73" y="90.0" width="3.00" height="11.5"/><rect x="782.95" y="112.4" width="3.00" height="28.4"/><rect x="801.66" y="141.0" width="3.00" height="7.8"/><rect x="812.88" y="168.2" width="3.00" height="7.3"/><rect x="820.36" y="176.0" width="3.00" height="1.8"/><rect x="824.11" y="182.7" width="3.00" height="1.8"/><rect x="842.81" y="191.0" width="3.00" height="40.0"/><rect x="846.55" y="177.3" width="3.00" height="6.3"/><rect x="850.30" y="175.5" width="3.00" height="20.9"/></g>
<g fill="#f23645"><rect x="8.50" y="442.7" width="3.00" height="6.4"/><rect x="19.73" y="378.2" width="3.00" height="2.2"/><rect x="34.69" y="363.6" width="3.00" height="2.2"/><rect x="38.43" y="374.0" width="3.00" height="20.2"/><rect x="53.40" y="370.0" width="3.00" height="11.8"/><rect x="57.14" y="365.5" width="3.00" height="9.1"/><rect x="72.10" y="354.2" width="3.00" height="2.2"/><rect x="75.85" y="352.2" width="3.00" height="13.8"/><rect x="90.81" y="333.1" width="3.00" height="8.7"/><rect x="98.29" y="347.3" width="3.00" height="7.3"/><rect x="105.78" y="343.6" width="3.00" height="10.0"/><rect x="109.52" y="351.5" width="3.00" height="2.2"/><rect x="113.26" y="347.6" width="3.00" height="10.2"/><rect x="124.48" y="317.3" width="3.00" height="3.6"/><rect x="150.67" y="271.5" width="3.00" height="8.0"/><rect x="154.41" y="279.1" width="3.00" height="2.7"/><rect x="173.12" y="260.9" width="3.00" height="15.5"/><rect x="184.34" y="255.5" width="3.00" height="4.0"/><rect x="199.31" y="238.3" width="3.00" height="2.2"/><rect x="206.79" y="230.1" width="3.00" height="2.5"/><rect x="210.53" y="228.1" width="3.00" height="11.1"/><rect x="214.27" y="235.0" width="3.00" height="6.0"/><rect x="218.02" y="221.4" width="3.00" height="26.9"/><rect x="221.76" y="263.2" width="3.00" height="14.5"/><rect x="229.24" y="247.7" width="3.00" height="12.2"/><rect x="236.72" y="235.5" width="3.00" height="12.2"/><rect x="244.20" y="232.6" width="3.00" height="5.5"/><rect x="259.17" y="206.5" width="3.00" height="8.5"/><rect x="266.65" y="215.5" width="3.00" height="11.3"/><rect x="270.39" y="227.7" width="3.00" height="3.6"/><rect x="274.13" y="235.0" width="3.00" height="3.6"/><rect x="281.62" y="211.9" width="3.00" height="6.2"/><rect x="296.58" y="203.2" width="3.00" height="9.1"/><rect x="311.55" y="191.4" width="3.00" height="14.0"/><rect x="315.29" y="199.5" width="3.00" height="1.5"/><rect x="322.77" y="184.9" width="3.00" height="6.0"/><rect x="330.25" y="172.7" width="3.00" height="2.4"/><rect x="337.74" y="163.3" width="3.00" height="5.8"/><rect x="341.48" y="168.5" width="3.00" height="2.0"/><rect x="356.44" y="142.7" width="3.00" height="11.3"/><rect x="360.18" y="150.0" width="3.00" height="9.5"/><rect x="363.93" y="167.8" width="3.00" height="1.3"/><rect x="371.41" y="151.5" width="3.00" height="2.2"/><rect x="382.63" y="131.5" width="3.00" height="5.8"/><rect x="386.37" y="133.6" width="3.00" height="3.3"/><rect x="393.86" y="127.3" width="3.00" height="9.1"/><rect x="401.34" y="122.4" width="3.00" height="8.5"/><rect x="405.08" y="128.2" width="3.00" height="56.4"/><rect x="416.30" y="144.2" width="3.00" height="5.5"/><rect x="420.05" y="143.6" width="3.00" height="18.2"/><rect x="431.27" y="128.5" width="3.00" height="1.5"/><rect x="435.01" y="128.5" width="3.00" height="12.4"/><rect x="449.98" y="82.4" width="3.00" height="2.2"/><rect x="453.72" y="77.6" width="3.00" height="7.3"/><rect x="457.46" y="93.3" width="3.00" height="11.3"/><rect x="461.20" y="89.1" width="3.00" height="10.4"/><rect x="464.94" y="87.3" width="3.00" height="8.5"/><rect x="468.68" y="114.5" width="3.00" height="5.5"/><rect x="476.17" y="114.5" width="3.00" height="20.5"/><rect x="491.13" y="91.5" width="3.00" height="4.9"/><rect x="494.87" y="103.1" width="3.00" height="26.9"/><rect x="502.35" y="137.0" width="3.00" height="12.0"/><rect x="506.10" y="158.2" width="3.00" height="7.7"/><rect x="513.58" y="129.6" width="3.00" height="59.6"/><rect x="539.77" y="101.3" width="3.00" height="1.5"/><rect x="547.25" y="91.8" width="3.00" height="2.7"/><rect x="554.73" y="89.1" width="3.00" height="8.7"/><rect x="558.47" y="98.5" width="3.00" height="1.5"/><rect x="569.70" y="85.5" width="3.00" height="17.8"/><rect x="573.44" y="93.6" width="3.00" height="13.3"/><rect x="580.92" y="110.0" width="3.00" height="24.5"/><rect x="584.66" y="117.7" width="3.00" height="1.0"/><rect x="603.37" y="71.3" width="3.00" height="2.4"/><rect x="610.85" y="81.5" width="3.00" height="1.8"/><rect x="614.59" y="82.2" width="3.00" height="16.0"/><rect x="618.33" y="88.2" width="3.00" height="6.0"/><rect x="629.56" y="68.2" width="3.00" height="7.3"/><rect x="644.52" y="58.2" width="3.00" height="4.5"/><rect x="648.26" y="70.5" width="3.00" height="3.1"/><rect x="652.01" y="60.9" width="3.00" height="7.3"/><rect x="655.75" y="63.6" width="3.00" height="7.3"/><rect x="659.49" y="91.8" width="3.00" height="20.9"/><rect x="666.97" y="76.4" width="3.00" height="1.8"/><rect x="681.94" y="51.8" width="3.00" height="6.7"/><rect x="685.68" y="58.5" width="3.00" height="2.9"/><rect x="689.42" y="67.6" width="3.00" height="2.4"/><rect x="696.90" y="56.0" width="3.00" height="20.4"/><rect x="700.64" y="74.2" width="3.00" height="12.7"/><rect x="704.38" y="100.0" width="3.00" height="11.8"/><rect x="715.61" y="59.6" width="3.00" height="10.4"/><rect x="719.35" y="59.1" width="3.00" height="10.4"/><rect x="723.09" y="64.5" width="3.00" height="37.3"/><rect x="745.54" y="81.5" width="3.00" height="18.9"/><rect x="756.76" y="68.7" width="3.00" height="10.9"/><rect x="775.47" y="96.0" width="3.00" height="6.7"/><rect x="779.21" y="119.6" width="3.00" height="10.2"/><rect x="786.69" y="113.0" width="3.00" height="3.7"/><rect x="790.43" y="113.8" width="3.00" height="5.1"/><rect x="794.18" y="128.8" width="3.00" height="20.4"/><rect x="797.92" y="148.8" width="3.00" height="12.3"/><rect x="805.40" y="134.2" width="3.00" height="2.2"/><rect x="809.14" y="141.5" width="3.00" height="22.3"/><rect x="816.62" y="171.8" width="3.00" height="26.4"/><rect x="827.85" y="171.0" width="3.00" height="2.0"/><rect x="831.59" y="183.3" width="3.00" height="23.7"/><rect x="835.33" y="213.6" width="3.00" height="25.4"/><rect x="839.07" y="228.0" width="3.00" height="19.3"/></g>
<line x1="0" y1="175.5" x2="873" y2="175.5" stroke="#089981" stroke-width="1" stroke-dasharray="1,1.05" opacity="0.6"/>
<g fill="#c6c6c6" stroke="#c6c6c6" stroke-width="0.15" font-size="9.7" text-rendering="geometricPrecision"><text x="896.3" y="54.9" textLength="29.3" lengthAdjust="spacingAndGlyphs">7,000.00</text><text x="896.3" y="84.4" textLength="29.3" lengthAdjust="spacingAndGlyphs">6,900.00</text><text x="896.3" y="114.0" textLength="29.3" lengthAdjust="spacingAndGlyphs">6,800.00</text><text x="896.3" y="143.6" textLength="29.3" lengthAdjust="spacingAndGlyphs">6,700.00</text><text x="896.3" y="173.2" textLength="29.3" lengthAdjust="spacingAndGlyphs">6,600.00</text><text x="896.3" y="202.8" textLength="29.3" lengthAdjust="spacingAndGlyphs">6,500.00</text><text x="896.3" y="232.3" textLength="29.3" lengthAdjust="spacingAndGlyphs">6,400.00</text><text x="896.3" y="261.9" textLength="29.3" lengthAdjust="spacingAndGlyphs">6,300.00</text><text x="896.3" y="291.5" textLength="29.3" lengthAdjust="spacingAndGlyphs">6,200.00</text><text x="896.3" y="321.1" textLength="29.3" lengthAdjust="spacingAndGlyphs">6,100.00</text><text x="896.3" y="350.7" textLength="29.3" lengthAdjust="spacingAndGlyphs">6,000.00</text><text x="896.3" y="380.2" textLength="29.3" lengthAdjust="spacingAndGlyphs">5,900.00</text><text x="896.3" y="409.8" textLength="29.3" lengthAdjust="spacingAndGlyphs">5,800.00</text><text x="896.3" y="439.4" textLength="29.3" lengthAdjust="spacingAndGlyphs">5,700.00</text><text x="896.3" y="469.0" textLength="29.3" lengthAdjust="spacingAndGlyphs">5,600.00</text><text x="896.3" y="498.6" textLength="29.3" lengthAdjust="spacingAndGlyphs">5,500.00</text></g>
<g fill="#c6c6c6" stroke="#c6c6c6" stroke-width="0.15" font-size="8.7" text-anchor="middle"><text x="66.1" y="543" textLength="12.6" lengthAdjust="spacingAndGlyphs">Jun</text><text x="140.8" y="543" textLength="10.0" lengthAdjust="spacingAndGlyphs">Jul</text><text x="223.1" y="543" textLength="13.9" lengthAdjust="spacingAndGlyphs">Aug</text><text x="301.9" y="543" textLength="13.9" lengthAdjust="spacingAndGlyphs">Sep</text><text x="380.5" y="543" textLength="12.6" lengthAdjust="spacingAndGlyphs">Oct</text><text x="466.6" y="543" textLength="14.2" lengthAdjust="spacingAndGlyphs">Nov</text><text x="537.7" y="543" textLength="14.2" lengthAdjust="spacingAndGlyphs">Dec</text><text x="619.8" y="543" textLength="17.5" lengthAdjust="spacingAndGlyphs">2026</text><text x="694.7" y="543" textLength="12.6" lengthAdjust="spacingAndGlyphs">Feb</text><text x="765.7" y="543" textLength="13.4" lengthAdjust="spacingAndGlyphs">Mar</text><text x="847.9" y="543" textLength="12.2" lengthAdjust="spacingAndGlyphs">Apr</text></g>
<rect x="873.2" y="169.3" width="17.6" height="12.6" rx="1.5" fill="#089981"/>
<rect x="891.7" y="169.3" width="37" height="12.6" rx="1.5" fill="#089981"/>
<text x="875.6" y="178.6" font-size="9.2" fill="#e8f5f2" textLength="13.2" lengthAdjust="spacingAndGlyphs">SPX</text>
<text x="895.8" y="178.6" font-size="9.4" fill="#e8f5f2" textLength="30.2" lengthAdjust="spacingAndGlyphs">6,582.68</text>
<rect x="893.8" y="2.9" width="35.5" height="19.2" rx="3.5" fill="#0f0f0f" stroke="#2b2b2b" stroke-width="1"/>
<text x="898.5" y="15.6" font-size="9.3" fill="#dadada" stroke="#dadada" stroke-width="0.3" textLength="13.6" lengthAdjust="spacingAndGlyphs">USD</text>
<circle cx="901.4" cy="25.6" r="0.6" fill="#8a8a8a"/>
<g font-size="9.1" fill="#c0c0c0" stroke="#c0c0c0" stroke-width="0.12">
<text x="4.6" y="15.0" fill="#d8d8d8" textLength="97.6" lengthAdjust="spacingAndGlyphs" stroke="#d8d8d8" stroke-width="0.25">S&amp;P 500 Index · 1D · SPCFD</text>
<text x="4.6" y="27.8" textLength="93.8" lengthAdjust="spacingAndGlyphs">MA (244, close, 0, SMA, 5)</text>
<text x="4.6" y="40.4" textLength="89.3" lengthAdjust="spacingAndGlyphs">MA (60, close, 0, SMA, 5)</text>
<text x="4.4" y="52.5" textLength="12.0" lengthAdjust="spacingAndGlyphs">Vol</text>
</g>
<svg x="0" y="515" width="891" height="14.8" overflow="hidden"><text x="4.6" y="15" font-size="9.1" fill="#c0c0c0" font-family="'Liberation Sans', Arial, sans-serif" textLength="397.6" lengthAdjust="spacingAndGlyphs">RSI (14, close, SMA, 14, 2): The maximum number of studies per chart has been reached for current subscription</text></svg>
<ellipse cx="851.7" cy="486.8" rx="6.1" ry="7.2" fill="#0b0b0b" stroke="#a89c9c" stroke-width="1.1"/>
<path d="M853.6,482.9 L849.4,487.0 L853.6,486.3 L849.6,490.6" fill="none" stroke="#b8b0b0" stroke-width="0.9" stroke-linejoin="round"/>
<ellipse cx="870.00" cy="504.4" rx="6.5" ry="7.5" fill="#f23645"/><ellipse cx="870.00" cy="504.4" rx="5.3" ry="6.3" fill="#140808"/><g clip-path="url(#fc5)"><rect x="864.50" y="497" width="11" height="15" fill="#d3dcdc"/><rect x="864.50" y="500.30" width="11" height="1.7" fill="#f23645"/><rect x="864.50" y="503.60" width="11" height="1.7" fill="#f23645"/><rect x="864.50" y="506.90" width="11" height="1.7" fill="#f23645"/><rect x="864.50" y="510.20" width="11" height="1.7" fill="#f23645"/></g><ellipse cx="866.22" cy="504.4" rx="6.5" ry="7.5" fill="#f23645"/><ellipse cx="866.22" cy="504.4" rx="5.3" ry="6.3" fill="#140808"/><g clip-path="url(#fc4)"><rect x="860.72" y="497" width="11" height="15" fill="#d3dcdc"/><rect x="860.72" y="500.30" width="11" height="1.7" fill="#f23645"/><rect x="860.72" y="503.60" width="11" height="1.7" fill="#f23645"/><rect x="860.72" y="506.90" width="11" height="1.7" fill="#f23645"/><rect x="860.72" y="510.20" width="11" height="1.7" fill="#f23645"/></g><ellipse cx="862.44" cy="504.4" rx="6.5" ry="7.5" fill="#f23645"/><ellipse cx="862.44" cy="504.4" rx="5.3" ry="6.3" fill="#140808"/><g clip-path="url(#fc3)"><rect x="856.94" y="497" width="11" height="15" fill="#d3dcdc"/><rect x="856.94" y="500.30" width="11" height="1.7" fill="#f23645"/><rect x="856.94" y="503.60" width="11" height="1.7" fill="#f23645"/><rect x="856.94" y="506.90" width="11" height="1.7" fill="#f23645"/><rect x="856.94" y="510.20" width="11" height="1.7" fill="#f23645"/></g><ellipse cx="858.66" cy="504.4" rx="6.5" ry="7.5" fill="#f23645"/><ellipse cx="858.66" cy="504.4" rx="5.3" ry="6.3" fill="#140808"/><g clip-path="url(#fc2)"><rect x="853.16" y="497" width="11" height="15" fill="#d3dcdc"/><rect x="853.16" y="500.30" width="11" height="1.7" fill="#f23645"/><rect x="853.16" y="503.60" width="11" height="1.7" fill="#f23645"/><rect x="853.16" y="506.90" width="11" height="1.7" fill="#f23645"/><rect x="853.16" y="510.20" width="11" height="1.7" fill="#f23645"/></g><ellipse cx="854.88" cy="504.4" rx="6.5" ry="7.5" fill="#f23645"/><ellipse cx="854.88" cy="504.4" rx="5.3" ry="6.3" fill="#140808"/><g clip-path="url(#fc1)"><rect x="849.38" y="497" width="11" height="15" fill="#d3dcdc"/><rect x="849.38" y="500.30" width="11" height="1.7" fill="#f23645"/><rect x="849.38" y="503.60" width="11" height="1.7" fill="#f23645"/><rect x="849.38" y="506.90" width="11" height="1.7" fill="#f23645"/><rect x="849.38" y="510.20" width="11" height="1.7" fill="#f23645"/></g><ellipse cx="851.10" cy="504.4" rx="6.5" ry="7.5" fill="#f23645"/><ellipse cx="851.10" cy="504.4" rx="5.3" ry="6.3" fill="#140808"/><g clip-path="url(#fc0)"><rect x="845.60" y="497" width="11" height="15" fill="#d3dcdc"/><rect x="845.60" y="500.30" width="11" height="1.7" fill="#f23645"/><rect x="845.60" y="503.60" width="11" height="1.7" fill="#f23645"/><rect x="845.60" y="506.90" width="11" height="1.7" fill="#f23645"/><rect x="845.60" y="510.20" width="11" height="1.7" fill="#f23645"/><rect x="845.70" y="497.5" width="5.2" height="6.2" fill="#2a4fd0"/><rect x="846.70" y="499.60" width="5.2" height="0.9" fill="#2a9a88"/><rect x="846.70" y="501.80" width="5.2" height="0.9" fill="#2a9a88"/></g>
</svg>
</body></html>
